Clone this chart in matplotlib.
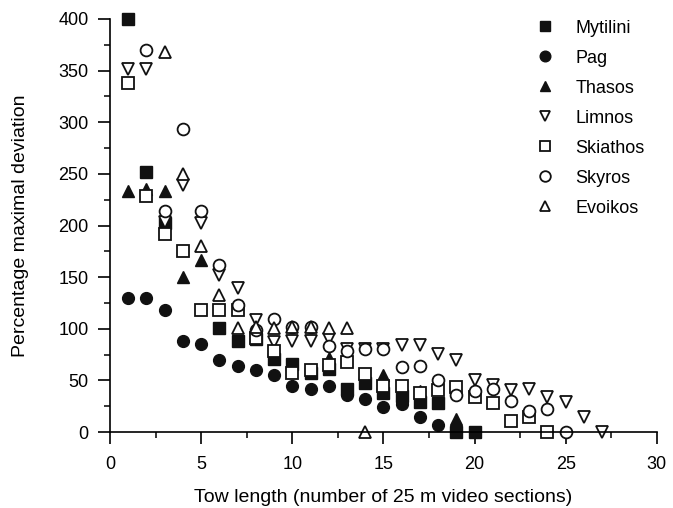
import matplotlib
matplotlib.use("Agg")
import matplotlib.pyplot as plt
from matplotlib.ticker import MultipleLocator

plt.rcParams['font.family'] = ['Liberation Sans', 'DejaVu Sans']

# tow length (sections) and percentage maximal deviation per site
mytilini_x = [1, 2, 3, 6, 7, 8, 9, 10, 11, 12, 13, 14, 15, 16, 17, 18, 19, 20]
mytilini_y = [400, 252, 202, 101, 88, 90, 71, 66, 57, 61, 42, 47, 38, 35, 29, 28, 0, 0]

pag_x = [1, 2, 3, 4, 5, 6, 7, 8, 9, 10, 11, 12, 13, 14, 15, 16, 17, 18]
pag_y = [130, 130, 118, 88, 85, 70, 64, 60, 55, 45, 42, 45, 36, 32, 24, 27, 15, 7]

thasos_x = [1, 2, 3, 4, 5, 12, 15, 17, 19]
thasos_y = [233, 235, 233, 150, 167, 72, 55, 40, 13]

limnos_x = [1, 2, 3, 4, 5, 6, 7, 8, 9, 10, 11, 12, 13, 14, 15, 16, 17, 18, 19,
            20, 21, 22, 23, 24, 25, 26, 27]
limnos_y = [352, 352, 203, 239, 202, 152, 139, 108, 87, 88, 88, 90, 80, 80, 80,
            84, 84, 76, 70, 50, 46, 41, 42, 34, 29, 15, 0]

skiathos_x = [1, 2, 3, 4, 5, 6, 7, 8, 9, 10, 11, 12, 13, 14, 15, 16, 17, 18, 19,
              20, 21, 22, 23, 24]
skiathos_y = [338, 229, 192, 175, 118, 118, 118, 91, 78, 57, 60, 65, 68, 56, 45,
              45, 38, 41, 44, 34, 28, 11, 15, 0]

skyros_x = [2, 3, 4, 5, 6, 7, 8, 9, 10, 11, 12, 13, 14, 15, 16, 17, 18, 19, 20,
            21, 22, 23, 24, 25]
skyros_y = [370, 214, 293, 214, 162, 123, 99, 109, 102, 102, 83, 78, 80, 80, 63,
            64, 50, 36, 40, 42, 30, 20, 22, 0]

evoikos_x = [3, 4, 5, 6, 7, 8, 9, 10, 11, 12, 13, 14]
evoikos_y = [368, 250, 180, 133, 101, 102, 101, 102, 102, 101, 101, 0]

fig = plt.figure(figsize=(6.73, 5.08), dpi=100)
ax = fig.add_axes([0.1635, 0.1496, 0.8125, 0.813])

filled = dict(color='#111111', linestyle='none', markersize=8.5, clip_on=False)
hollow = dict(color='#111111', markerfacecolor='white', markeredgewidth=1.3,
              linestyle='none', markersize=8.5, clip_on=False)

ax.plot(mytilini_x, mytilini_y, marker='s', label='Mytilini', **filled)
ax.plot(pag_x, pag_y, marker='o', label='Pag', **filled)
ax.plot(thasos_x, thasos_y, marker='^', label='Thasos', **filled)
ax.plot(limnos_x, limnos_y, marker='v', label='Limnos', **hollow)
ax.plot(skiathos_x, skiathos_y, marker='s', label='Skiathos', **hollow)
ax.plot(skyros_x, skyros_y, marker='o', label='Skyros', **hollow)
ax.plot(evoikos_x, evoikos_y, marker='^', label='Evoikos', **hollow)

ax.set_xlim(0, 30)
ax.set_ylim(0, 400)
ax.xaxis.set_major_locator(MultipleLocator(5))
ax.xaxis.set_minor_locator(MultipleLocator(2.5))
ax.yaxis.set_major_locator(MultipleLocator(50))
ax.yaxis.set_minor_locator(MultipleLocator(25))

for side in ['top', 'right']:
    ax.spines[side].set_visible(False)
for side in ['left', 'bottom']:
    ax.spines[side].set_linewidth(1.2)

ax.tick_params(which='major', direction='out', length=8.5, width=1.2,
               labelsize=13)
ax.tick_params(axis='x', which='major', pad=9)
ax.tick_params(axis='y', which='major', pad=7)
ax.tick_params(which='minor', direction='out', length=4.5, width=1.1)

ax.set_xlabel('Tow length (number of 25 m video sections)', fontsize=14,
              labelpad=11)
ax.set_ylabel('Percentage maximal deviation', fontsize=14, labelpad=21)

ax.legend(loc='upper left', bbox_to_anchor=(0.781, 0.979),
          bbox_transform=fig.transFigure, frameon=False, fontsize=13,
          markerscale=0.9, handlelength=1.2, handletextpad=1.05,
          labelspacing=0.72, borderpad=0)

fig.savefig('out.png', dpi=100)
